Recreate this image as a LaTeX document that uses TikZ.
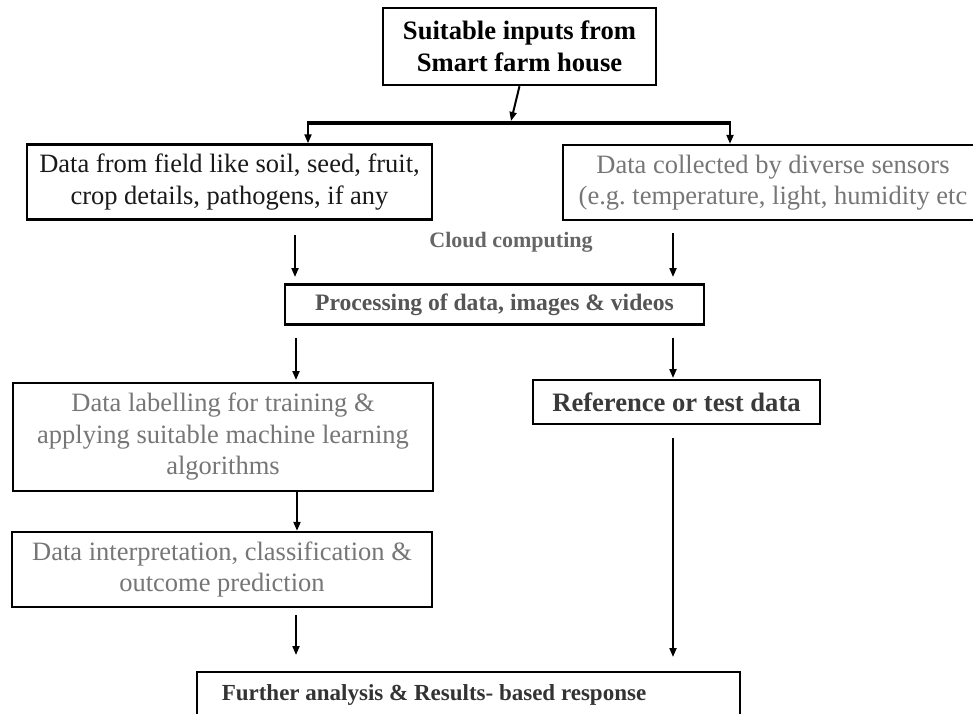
\documentclass[tikz,border=0pt]{standalone}
\usepackage{fontspec}
\setmainfont{Liberation Serif}
\usetikzlibrary{arrows.meta}
\definecolor{tgrey}{HTML}{767676}
\definecolor{bgrey}{HTML}{555555}
\definecolor{dgrey}{HTML}{333333}
\frenchspacing
\begin{document}
\begin{tikzpicture}[x=1pt,y=-1pt,
  box/.style={draw=black, line width=2.4pt, inner sep=0pt, align=center},
  reg/.style={font=\fontsize{26.5}{31.5}\selectfont},
  bld/.style={font=\fontsize{26.6}{31.5}\selectfont\bfseries},
  arr/.style={-{Triangle[length=9pt,width=7pt]}, line width=2pt}]
\clip (0,0) rectangle (973,713);
\fill[white] (0,0) rectangle (973,713);

\node[box, bld, text=black, minimum width=273pt, minimum height=77pt] (top) at (519.5,46.5)
  {Suitable inputs from\\Smart farm house};
\node[box, reg, text=black!90, minimum width=405pt, minimum height=75pt] (field) at (229.5,182)
  {Data from field like soil, seed, fruit,\\crop details, pathogens, if any};
\node[box, reg, text=tgrey, minimum width=420pt, minimum height=75pt] (sens) at (773,182.5)
  {Data collected by diverse sensors\\(e.g. temperature, light, humidity etc};
\node[font=\fontsize{22}{26}\selectfont\bfseries, text=bgrey!90] (cloud) at (511,242) {Cloud computing};
\node[box, font=\fontsize{23.6}{28}\selectfont\bfseries, text=bgrey, minimum width=419pt, minimum height=40pt] (proc) at (494.5,304.5)
  {Processing of data, images \& videos};
\node[box, reg, text=tgrey, minimum width=420pt, minimum height=108pt] (label) at (223,437)
  {Data labelling for training \&\\applying suitable machine learning\\algorithms};
\node[box, bld, text=dgrey!80!bgrey, minimum width=287pt, minimum height=44pt] (ref) at (676.5,402)
  {Reference or test data};
\node[box, reg, text=tgrey, minimum width=420pt, minimum height=75pt] (interp) at (222,569.5)
  {Data interpretation, classification \&\\outcome prediction};
\node[box, minimum width=543pt, minimum height=60pt] (resbox) at (468.5,702) {};
\node[font=\fontsize{23}{28}\selectfont\bfseries, text=dgrey] (restext) at (434,695)
  {Further analysis \& Results- based response};

% top connector
\coordinate (jn) at (511,121);
\draw[arr] (top.south) -- (jn);
\coordinate (bl) at (308,123);
\coordinate (br) at (730,123);
\draw[line width=4pt] ([xshift=-1pt]bl) -- ([xshift=1pt]br);
\draw[arr] (bl) -- (bl |- field.north);
\draw[arr] (br) -- (br |- sens.north);

% left column
\coordinate (l1a) at (295,235); \coordinate (l1b) at (295,277);
\draw[arr] (l1a) -- (l1b);
\coordinate (l2a) at (296,338); \coordinate (l2b) at (296,380);
\draw[arr] (l2a) -- (l2b);
\coordinate (q) at (297,0);
\draw[arr] (q |- label.south) -- (q |- interp.north);
\coordinate (l3a) at (296,615); \coordinate (l3b) at (296,655);
\draw[arr] (l3a) -- (l3b);

% right column
\coordinate (r1a) at (673,233); \coordinate (r1b) at (673,277);
\draw[arr] (r1a) -- (r1b);
\coordinate (r2a) at (673,338); \coordinate (r2b) at (673,378);
\draw[arr] (r2a) -- (r2b);
\coordinate (r3a) at (673,438); \coordinate (r3b) at (673,657);
\draw[arr] (r3a) -- (r3b);
\end{tikzpicture}
\end{document}
